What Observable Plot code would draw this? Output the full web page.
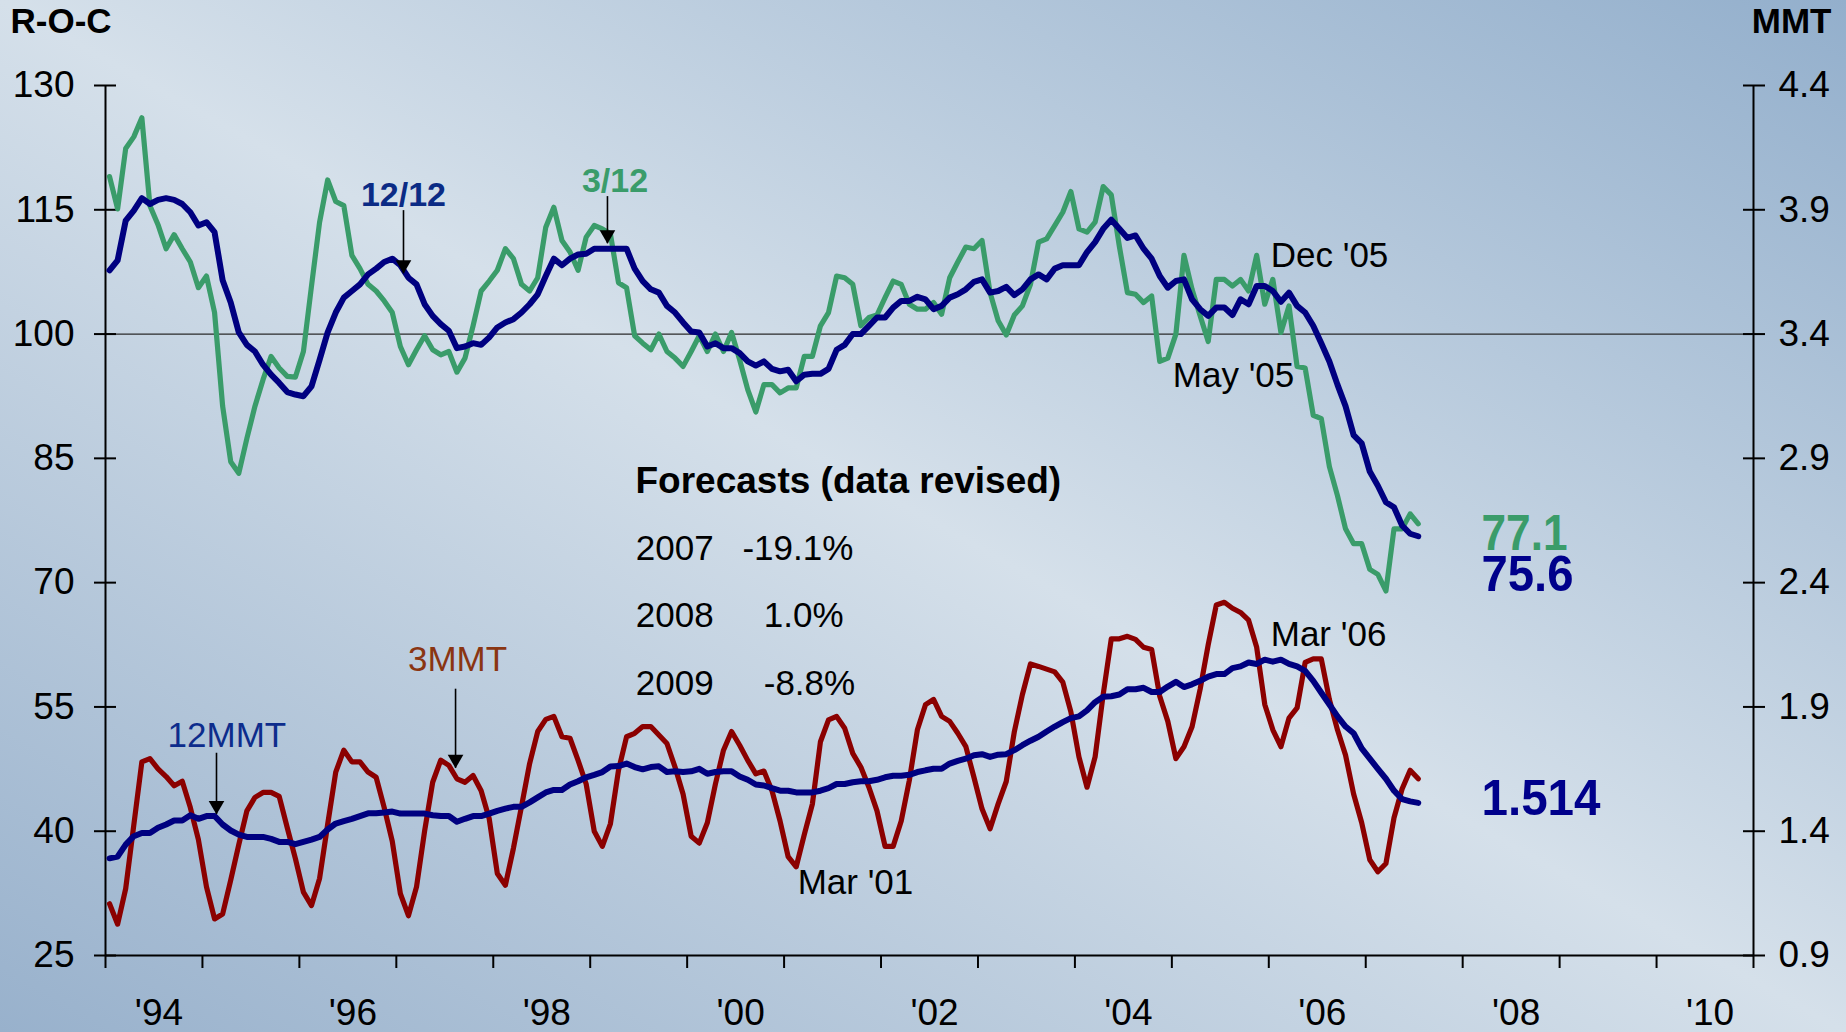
<!DOCTYPE html>
<html><head><meta charset="utf-8">
<script src="https://cdn.jsdelivr.net/npm/d3@7"></script>
<script src="https://cdn.jsdelivr.net/npm/@observablehq/plot@0.6"></script>
<style>
html,body{margin:0;padding:0;}
body{width:1846px;height:1032px;overflow:hidden;background:linear-gradient(to bottom left,#93afcc 0%,#d5e0ea 50%,#98b1cc 100%);}
#chart svg{display:block;}
</style></head><body><div id="chart"></div>
<script>
// Monthly series, first month = Jan 1994
const startYear = 1994;
const roc312 = [119.0,115.1,122.4,123.8,126.1,115.5,113.2,110.3,112.0,110.3,
108.7,105.6,107.0,102.6,91.3,84.6,83.2,87.4,91.3,94.5,
97.3,95.9,94.9,94.8,97.9,105.8,113.5,118.6,116.0,115.5,
109.5,107.9,106.0,105.2,104.0,102.6,98.5,96.3,98.1,99.8,
98.1,97.5,97.9,95.4,97.1,101.0,105.2,106.4,107.7,110.3,
109.1,106.0,105.2,106.8,112.9,115.3,111.3,109.9,107.7,111.7,
113.1,112.7,112.1,106.2,105.6,99.8,98.9,98.1,100.0,97.9,
97.1,96.1,97.9,99.8,97.9,100.0,97.9,100.2,96.9,93.3,
90.6,93.9,93.9,92.9,93.5,93.5,97.3,97.3,101.0,102.6,
107.0,106.8,106.0,101.0,102.0,102.3,104.4,106.4,106.0,103.6,
103.0,103.0,103.8,102.4,106.8,108.7,110.5,110.3,111.3,105.0,
101.6,99.9,102.3,103.4,106.0,111.1,111.5,113.1,114.7,117.2,
112.7,112.3,113.5,117.8,116.8,110.6,105.0,104.8,103.8,104.6,
96.7,97.1,100.0,109.5,105.4,102.2,99.1,106.6,106.6,105.8,
106.6,105.2,109.5,103.6,106.6,100.2,103.4,96.1,95.9,90.2,
89.8,84.0,80.5,76.5,74.7,74.7,71.6,71.0,69.0,76.5,
76.5,78.3,77.1];
const roc1212 = [107.7,108.9,113.7,114.9,116.4,115.7,116.2,116.4,116.2,115.7,
114.7,113.1,113.5,112.3,106.5,103.8,100.2,98.7,97.9,96.3,
95.1,94.1,93.0,92.7,92.5,93.7,96.9,100.2,102.6,104.4,
105.2,106.0,107.2,107.9,108.7,109.1,108.3,106.8,106.0,103.6,
102.2,101.2,100.4,98.3,98.5,98.9,98.7,99.6,100.8,101.4,
101.8,102.6,103.6,104.8,107.0,109.1,108.3,109.1,109.6,109.7,
110.3,110.3,110.3,110.3,110.3,107.9,106.4,105.4,105.0,103.4,
102.6,101.4,100.3,100.2,98.5,98.9,98.3,98.3,97.7,96.7,
96.2,96.7,95.8,95.5,95.7,94.3,95.1,95.2,95.2,95.8,
98.1,98.7,100.0,100.0,101.0,102.0,102.0,103.2,104.0,104.0,
104.5,104.2,103.0,103.4,104.4,104.8,105.4,106.3,106.6,105.0,
105.2,105.7,104.7,105.4,106.6,107.2,106.6,107.9,108.3,108.3,
108.3,109.9,111.1,112.7,113.8,112.7,111.6,111.9,110.3,109.1,
107.0,105.6,106.4,106.6,104.2,103.0,102.2,103.2,103.2,102.3,
104.2,103.6,105.8,105.8,105.2,103.9,105.0,103.4,102.6,101.0,
98.9,96.7,93.9,91.3,87.8,86.8,83.4,81.7,79.7,79.1,
76.9,75.9,75.6];
const mmt3 = [1.108,1.026,1.169,1.424,1.679,1.692,1.651,1.620,1.583,1.601,
1.495,1.366,1.176,1.047,1.067,1.203,1.346,1.482,1.536,1.556,
1.556,1.540,1.414,1.291,1.155,1.101,1.210,1.427,1.638,1.726,
1.679,1.679,1.638,1.617,1.495,1.359,1.149,1.060,1.176,1.400,
1.597,1.686,1.665,1.611,1.597,1.624,1.563,1.450,1.230,1.183,
1.332,1.500,1.672,1.801,1.850,1.862,1.780,1.774,1.685,1.590,
1.400,1.339,1.430,1.645,1.780,1.794,1.821,1.821,1.787,1.753,
1.658,1.549,1.380,1.352,1.434,1.590,1.726,1.801,1.746,1.685,
1.631,1.642,1.563,1.441,1.298,1.257,1.386,1.509,1.760,1.848,
1.862,1.814,1.713,1.658,1.577,1.482,1.339,1.339,1.441,1.604,
1.808,1.909,1.930,1.862,1.842,1.794,1.740,1.617,1.490,1.410,
1.510,1.600,1.800,1.950,2.073,2.063,2.052,2.041,2.000,1.880,
1.699,1.577,1.699,1.950,2.174,2.174,2.184,2.172,2.140,2.131,
1.943,1.842,1.692,1.740,1.820,1.971,2.150,2.310,2.321,2.297,
2.280,2.249,2.140,1.910,1.808,1.740,1.855,1.896,2.079,2.093,
2.093,1.930,1.808,1.706,1.550,1.434,1.285,1.237,1.270,1.454,
1.570,1.645,1.611];
const mmt12 = [1.291,1.298,1.346,1.380,1.393,1.393,1.414,1.427,1.443,1.443,
1.464,1.450,1.461,1.461,1.427,1.403,1.386,1.377,1.377,1.377,
1.369,1.357,1.357,1.348,1.357,1.366,1.377,1.407,1.431,1.441,
1.450,1.461,1.472,1.472,1.475,1.479,1.471,1.471,1.471,1.471,
1.464,1.461,1.461,1.438,1.450,1.461,1.461,1.471,1.482,1.491,
1.498,1.498,1.516,1.536,1.556,1.566,1.566,1.588,1.601,1.617,
1.627,1.638,1.660,1.662,1.672,1.658,1.649,1.658,1.661,1.638,
1.641,1.638,1.641,1.651,1.631,1.638,1.641,1.641,1.620,1.607,
1.588,1.584,1.573,1.563,1.563,1.556,1.556,1.556,1.563,1.573,
1.590,1.590,1.597,1.601,1.601,1.607,1.617,1.623,1.623,1.627,
1.638,1.645,1.651,1.651,1.672,1.683,1.692,1.706,1.710,1.699,
1.708,1.710,1.726,1.746,1.764,1.780,1.801,1.821,1.839,1.855,
1.862,1.886,1.919,1.941,1.943,1.950,1.971,1.971,1.977,1.960,
1.960,1.982,2.001,1.980,1.991,2.005,2.022,2.032,2.032,2.056,
2.063,2.079,2.073,2.090,2.082,2.090,2.073,2.063,2.045,2.005,
1.957,1.910,1.862,1.821,1.794,1.733,1.692,1.651,1.611,1.563,
1.529,1.520,1.514];

const rocTicks = [25, 40, 55, 70, 85, 100, 115, 130];
const mmtTicks = ["0.9", "1.4", "1.9", "2.4", "2.9", "3.4", "3.9", "4.4"];
const yearTicks = d3.range(1994, 2012);
const yearLabels = ["'94", "'96", "'98", "'00", "'02", "'04", "'06", "'08", "'10"];
const labelYears = [1994, 1996, 1998, 2000, 2002, 2004, 2006, 2008, 2010];

// Annotations (x in years, y in R-O-C units)
const regularNotes = [
  {x: 2006.02, y: 109.46, text: "Dec '05", color: "#000"},
  {x: 2005.01, y: 94.96, text: "May '05", color: "#000"},
  {x: 1999.47, y: 74.06, text: "2007", color: "#000"},
  {x: 2000.57, y: 74.06, text: "-19.1%", color: "#000"},
  {x: 1999.47, y: 65.96, text: "2008", color: "#000"},
  {x: 2000.79, y: 65.96, text: "1.0%", color: "#000"},
  {x: 1999.47, y: 57.80, text: "2009", color: "#000"},
  {x: 2000.79, y: 57.80, text: "-8.8%", color: "#000"},
  {x: 2001.14, y: 33.82, text: "Mar '01", color: "#000"},
  {x: 2006.02, y: 63.72, text: "Mar '06", color: "#000"},
  {x: 1994.64, y: 51.46, text: "12MMT", color: "#0d2c8c"},
  {x: 1997.12, y: 60.64, text: "3MMT", color: "#8a3512"}
];
const seriesNames = [
  {x: 1997.074, y: 116.83, text: "12/12", color: "#0b2b85"},
  {x: 1999.256, y: 118.52, text: "3/12", color: "#3a9c6a"}
];
const forecastTitle = [{x: 1999.467, y: 82.21, text: "Forecasts (data revised)"}];
const lastValues = [
  {x: 2008.194, y: 75.87, text: "77.1", color: "#3a9c6a", width: 86},
  {x: 2008.194, y: 70.91, text: "75.6", color: "#00008b", width: 92},
  {x: 2008.194, y: 43.85, text: "1.514", color: "#00008b", width: 119}
];
const arrows = [
  {x: 1997.074, y1: 114.9, y2: 107.28},
  {x: 1999.178, y1: 116.59, y2: 110.91},
  {x: 1995.145, y1: 49.41, y2: 42.03},
  {x: 1997.611, y1: 57.14, y2: 47.59}
];

const t = i => startYear + (i + 0.5) / 12;
const toRoc = m => 25 + (m - 0.9) * 30;
const green = roc312.map((v, i) => ({x: t(i), y: v}));
const navy = roc1212.map((v, i) => ({x: t(i), y: v}));
const red = mmt3.map((v, i) => ({x: t(i), y: toRoc(v)}));
const navy2 = mmt12.map((v, i) => ({x: t(i), y: toRoc(v)}));

const font = "'Liberation Sans', Arial, sans-serif";
const chart = Plot.plot({
  width: 1846, height: 1032,
  marginLeft: 105, marginRight: 93, marginTop: 85, marginBottom: 77,
  x: {domain: [1994, 2011]},
  y: {domain: [25, 130]},
  color: {type: "identity"},
  style: {background: "transparent", fontFamily: font, fontSize: "37px", color: "#000", overflow: "visible"},
  marks: [
    Plot.ruleY([100], {stroke: "#2a2a2a", strokeWidth: 1.3}),
    Plot.ruleY([25], {stroke: "#000", strokeWidth: 2}),
    Plot.ruleX([1994, 2011], {y1: 25, y2: 130, stroke: "#000", strokeWidth: 2}),
    Plot.axisY(rocTicks, {anchor: "left", label: null, tickSize: 22, dx: 11, tickPadding: 20, strokeWidth: 2, fontSize: 37}),
    Plot.axisY(rocTicks, {anchor: "right", label: null, tickSize: 22, dx: -11, tickPadding: 14, strokeWidth: 2, fontSize: 37,
      tickFormat: v => mmtTicks[rocTicks.indexOf(v)]}),
    Plot.axisX(yearTicks, {anchor: "bottom", label: null, tickSize: 13, strokeWidth: 2, tickFormat: () => ""}),
    Plot.axisX(labelYears.map(y => y + 0.5), {anchor: "bottom", label: null, tickSize: 0, tickPadding: 43, dx: 5, fontSize: 37,
      tickFormat: v => yearLabels[labelYears.indexOf(v - 0.5)]}),
    Plot.line(green, {x: "x", y: "y", stroke: "#3a9c6a", strokeWidth: 5.2}),
    Plot.line(navy, {x: "x", y: "y", stroke: "#000080", strokeWidth: 6}),
    Plot.line(red, {x: "x", y: "y", stroke: "#8b0000", strokeWidth: 5.2}),
    Plot.line(navy2, {x: "x", y: "y", stroke: "#000080", strokeWidth: 6}),
    Plot.ruleX(arrows, {x: "x", y1: "y1", y2: "y2", stroke: "#000", strokeWidth: 1.6}),
    Plot.dot(arrows, {x: "x", y: "y2", symbol: "triangle", rotate: 180, r: 5.8, fill: "#000", stroke: null, dy: -9}),
    Plot.text(regularNotes, {x: "x", y: "y", text: "text", fill: "color", textAnchor: "start", lineAnchor: "middle", fontSize: 35}),
    Plot.text(seriesNames, {x: "x", y: "y", text: "text", fill: "color", textAnchor: "middle", lineAnchor: "middle", fontSize: 34, fontWeight: "bold"}),
    Plot.text(forecastTitle, {x: "x", y: "y", text: "text", fill: "#000", textAnchor: "start", lineAnchor: "middle", fontSize: 37, fontWeight: "bold"}),
    Plot.text(lastValues, {x: "x", y: "y", text: "text", fill: "color", textAnchor: "start", lineAnchor: "middle", fontSize: 50, fontWeight: "bold", className: "last-values"}),
    Plot.text(["R-O-C"], {frameAnchor: "top-left", dx: -95, dy: -64, textAnchor: "start", lineAnchor: "middle", fontWeight: "bold", fontSize: 35}),
    Plot.text(["MMT"], {frameAnchor: "top-right", dx: 78, dy: -64, textAnchor: "end", lineAnchor: "middle", fontWeight: "bold", fontSize: 35})
  ]
});
// slightly condensed look of the final-value labels
chart.querySelectorAll(".last-values text").forEach(el => {
  const d = lastValues.find(v => v.text === el.textContent);
  if (d) { el.setAttribute("textLength", d.width); el.setAttribute("lengthAdjust", "spacingAndGlyphs"); }
});
document.getElementById("chart").appendChild(chart);
</script></body></html>
